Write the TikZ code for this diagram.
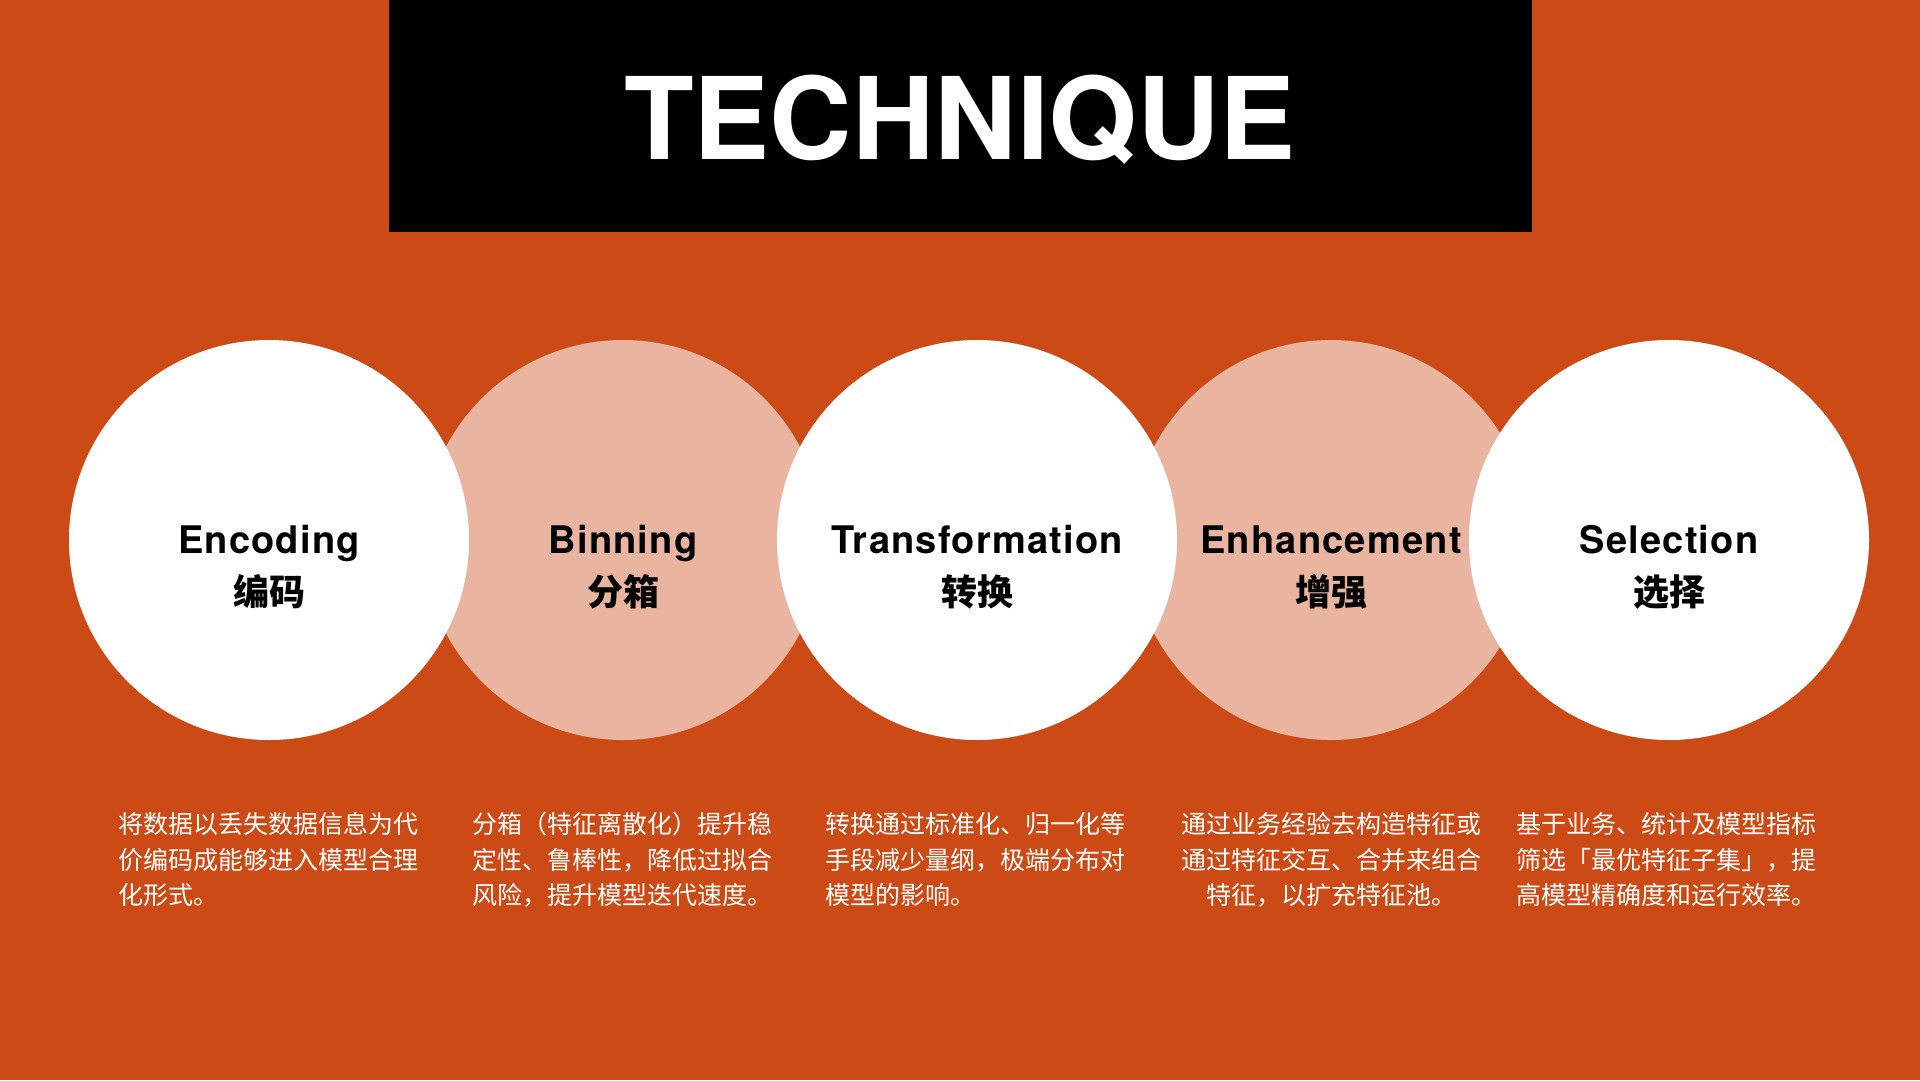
\documentclass[tikz,border=0pt]{standalone}
\usepackage{fontspec}
\setmainfont{TeX Gyre Heros}
\newfontfamily\cjk{Noto Sans CJK SC}
\newfontfamily\labelfont[LetterSpace=3.2]{TeX Gyre Heros}
\definecolor{bgorange}{RGB}{204,74,21}
\definecolor{blush}{RGB}{234,181,160}

\begin{document}
\begin{tikzpicture}[x=1pt,y=-1pt,
  disc/.style={circle, inner sep=0pt, minimum size=400pt},
  lightdisc/.style={disc, fill=white},
  pinkdisc/.style={disc, fill=blush},
  entitle/.style={anchor=base, inner sep=0pt, text=black, font=\labelfont\fontsize{38}{38}\selectfont\bfseries},
  zhtitle/.style={anchor=base, inner sep=0pt, text=black, font=\cjk\fontsize{36}{36}\selectfont\bfseries},
  desc/.style={anchor=base, inner sep=0pt, text width=301pt, text=white, font=\cjk\fontsize{25}{35.5}\selectfont},
]
% page and background
\useasboundingbox (0,0) rectangle (1920,1080);
\fill[bgorange] (0,0) rectangle (1920,1080);

% heading banner
\node[fill=black, inner sep=0pt, minimum width=1143pt, minimum height=232pt, anchor=north west] (banner) at (389,0) {};
\node[anchor=base, inner sep=0pt, text=white, font=\fontsize{114}{114}\selectfont\bfseries] (title) at (960,159) {TECHNIQUE};

% tinted discs sit underneath the white ones
\node[pinkdisc] (binning) at (623,540) {};
\node[pinkdisc] (enhancement) at (1331,540) {};
\node[lightdisc] (encoding) at (269,540) {};
\node[lightdisc] (transformation) at (977,540) {};
\node[lightdisc] (selection) at (1669,540) {};

% disc labels
\node[entitle] (encEn) at (269,553) {Encoding};
\node[zhtitle] (encZh) at (269,605) {编码};
\node[entitle] (binEn) at (623,553) {Binning};
\node[zhtitle] (binZh) at (623,605) {分箱};
\node[entitle] (traEn) at (977,553) {Transformation};
\node[zhtitle] (traZh) at (977,605) {转换};
\node[entitle] (enhEn) at (1331,553) {Enhancement};
\node[zhtitle] (enhZh) at (1331,605) {增强};
\node[entitle] (selEn) at (1669,553) {Selection};
\node[zhtitle] (selZh) at (1669,605) {选择};

% descriptions
\node[desc, align=left] (encText) at (269,833.5)
  {将数据以丢失数据信息为代\\价编码成能够进入模型合理\\化形式。};
\node[desc, align=left] (binText) at (623,833.5)
  {分箱（特征离散化）提升稳\\定性、鲁棒性，降低过拟合\\风险，提升模型迭代速度。};
\node[desc, align=left] (traText) at (976,833.5)
  {转换通过标准化、归一化等\\手段减少量纲，极端分布对\\模型的影响。};
\node[desc, align=center] (enhText) at (1331,833.5)
  {通过业务经验去构造特征或\\通过特征交互、合并来组合\\特征，以扩充特征池。};
\node[desc, align=left] (selText) at (1667,833.5)
  {基于业务、统计及模型指标\\筛选「最优特征子集」，提\\高模型精确度和运行效率。};
\end{tikzpicture}
\end{document}
